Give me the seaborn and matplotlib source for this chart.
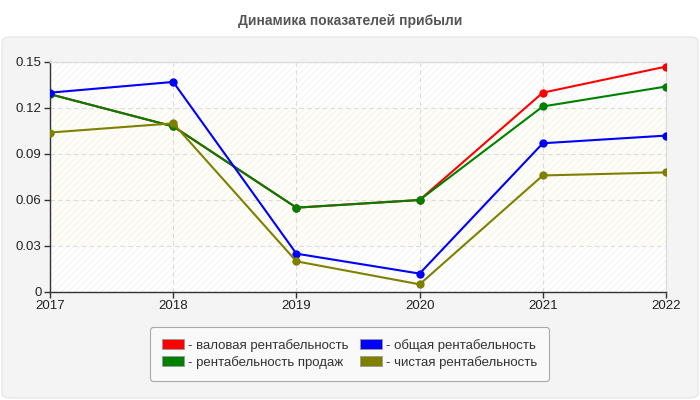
import matplotlib
matplotlib.use("Agg")
import matplotlib.pyplot as plt
import seaborn as sns
import pandas as pd
from matplotlib.patches import FancyBboxPatch, Rectangle, Patch

years = [2017, 2018, 2019, 2020, 2021, 2022]
gross = [0.129, 0.108, 0.055, 0.060, 0.130, 0.147]
total = [0.130, 0.137, 0.025, 0.012, 0.097, 0.102]
sales = [0.129, 0.108, 0.055, 0.060, 0.121, 0.134]
net = [0.104, 0.110, 0.020, 0.005, 0.076, 0.078]
labels = ["валовая рентабельность", "рентабельность продаж",
          "общая рентабельность", "чистая рентабельность"]
colors = ["#ff0000", "#008000", "#0000ff", "#808000"]
yticks = [0, 0.03, 0.06, 0.09, 0.12, 0.15]
ytick_labels = ["0", "0.03", "0.06", "0.09", "0.12", "0.15"]

sns.set_theme(style="white")
plt.rcParams['font.family'] = ['Liberation Sans', 'DejaVu Sans']
plt.rcParams['hatch.color'] = '#f1f1f1'
plt.rcParams['hatch.linewidth'] = 0.6

series = [gross, sales, total, net]
frames = []
for lab, vals in zip(labels, series):
    frames.append(pd.DataFrame({"year": years, "value": vals, "series": lab}))
df = pd.concat(frames, ignore_index=True)

fig = plt.figure(figsize=(7, 4), dpi=100)
fig.patch.set_facecolor("white")
panel = FancyBboxPatch((2 / 700, 2 / 400), 696 / 700, 361 / 400,
                       boxstyle="round,pad=0,rounding_size=0.012",
                       transform=fig.transFigure, facecolor="#f4f4f4",
                       edgecolor="#e4e4e4", linewidth=0.8, zorder=-10)
fig.patches.append(panel)

ax = fig.add_axes([50 / 700, 108 / 400, 616 / 700, 230 / 400])
ax.set_zorder(1)
ax.set_facecolor("white")

# band and hatch
ax.axhspan(0.03, 0.12, color="#fefef7", zorder=0, lw=0)
ax.add_patch(Rectangle((0, 0), 1, 1, transform=ax.transAxes, fill=False,
                       hatch="/////", edgecolor="#f1f1f1", lw=0, zorder=0.5))

palette = dict(zip(labels, colors))
sns.lineplot(data=df, x="year", y="value", hue="series", palette=palette,
             hue_order=labels, marker="o", markersize=6, markeredgewidth=0,
             linewidth=1.5, ax=ax, legend=False, zorder=3)

ax.set_xlim(2017, 2022)
ax.set_ylim(0, 0.15)
ax.set_xticks(years)
ax.set_xticklabels([str(y) for y in years])
ax.set_yticks(yticks)
ax.set_yticklabels(ytick_labels)
ax.set_xlabel("")
ax.set_ylabel("")
ax.grid(True, linestyle=(0, (4, 3)), color="#dcdcdc", linewidth=0.8, zorder=1)
ax.set_axisbelow(True)
ax.tick_params(axis="both", direction="out", length=4, width=1, color="#333333",
               labelsize=9.5, labelcolor="#222222", pad=2, left=True, bottom=True)
for s in ["left", "bottom"]:
    ax.spines[s].set_color("#333333")
    ax.spines[s].set_linewidth(1)
for s in ["top", "right"]:
    ax.spines[s].set_color("#dddddd")
    ax.spines[s].set_linewidth(1)

fig.text(0.5, 0.948, "Динамика показателей прибыли", ha="center", va="center",
         fontsize=10, fontweight="bold", color="#555555")

handles = [Patch(facecolor=c, edgecolor="#999999", linewidth=0.6, label="- " + l)
           for c, l in zip(colors, labels)]
leg = fig.legend(handles=handles, loc="center", bbox_to_anchor=(349.5 / 700, (400 - 354) / 400),
                 ncol=2, frameon=True, fontsize=9.5, handlelength=1.7, handleheight=0.8,
                 handletextpad=0.25, columnspacing=0.9, labelspacing=0.3,
                 borderpad=0.9, fancybox=True, edgecolor="#aaaaaa",
                 facecolor="#f9f9f9", framealpha=1)
leg.get_frame().set_linewidth(0.8)
for t in leg.get_texts():
    t.set_color("#333333")

fig.savefig("out.png", dpi=100)
